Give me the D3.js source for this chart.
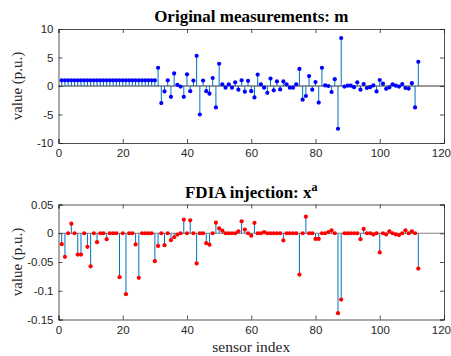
<!DOCTYPE html>
<html><head><meta charset="utf-8">
<script src="https://cdn.jsdelivr.net/npm/d3@7/dist/d3.min.js"></script>
<style>body{margin:0;background:#fff}svg{display:block}</style>
</head><body>
<svg id="c" width="451" height="356"></svg>
<script>
const sensorCount = 112;
const measurements = [
 1,1,1,1,1,1,1,1,1,1, 1,1,1,1,1,1,1,1,1,1, 1,1,1,1,1,1,1,1,1,1,
 3.2,-3.0,-0.95,1.0,-1.9,2.2,0.2,-0.1,-1.9,2.05,
 -0.9,0.95,5.3,-5.0,0.95,-0.9,-1.35,1.4,-3.75,3.9,
 0.3,-0.3,0.3,-0.3,0.65,-0.65,1.0,-1.0,0.9,-0.9,
 -2.0,2.0,0.3,-0.3,-1.2,1.3,-0.75,0.8,-0.6,0.8,
 0.3,-0.3,-0.3,0.3,3.0,-2.4,-1.75,1.75,-0.65,0.7,
 -2.9,3.2,0.1,0.0,-1.05,1.2,-7.5,8.4,-0.1,0.05,
 0.05,-0.2,0.65,-0.65,0.35,-0.35,-0.2,0.1,-0.95,1.05,
 0.4,-0.5,-0.25,0.3,0.05,-0.1,0.35,-0.35,-0.45,0.5,
 -3.75,4.25
];
const injection = [
 -0.019,-0.041,0,0.0167,0,-0.037,-0.037,0,-0.0236,-0.0575,
 0,-0.0155,0,0,-0.0103,0,0,0,-0.0764,0,
 -0.106,0,0,-0.0195,-0.0776,0,0,0,0,-0.0485,
 -0.022,0,-0.0207,0,-0.012,-0.007,-0.0023,0,0.0236,0,
 0.0224,0,-0.0525,0,0,-0.0172,-0.0198,0,0.0184,0.0086,
 0.0044,0,0,0,0,0.0034,0.0207,0.0065,0,-0.0042,
 0.018,0,0,0.002,0,0,0,0,0,-0.0124,
 0,0,0,0,-0.0718,0,0.0289,0,0,-0.0098,
 -0.0098,0,0,0.002,0.005,0,-0.139,-0.1153,0,0,
 0,0,0,-0.0103,0.0075,0,0,-0.002,0,-0.0333,
 0,-0.002,0.0034,0,-0.002,-0.0032,0,0.0052,0,0.0034,
 0,-0.0615
];
const xTicks = [0,20,40,60,80,100,120];
const yTicksTop = [-10,-5,0,5,10];
const yTicksBottom = [-0.15,-0.1,-0.05,0,0.05];

const svg = d3.select("#c");
const L = 58.5, R = 444;
const x = d3.scaleLinear().domain([0,120]).range([L,R]);
const idx = d3.range(1, sensorCount+1);
const serif = "'Liberation Serif','Times New Roman',serif";

function panel(top, bottom, yDomain, yTicks, values, markColor, baseColor, title, titleSup, fmt){
  const y = d3.scaleLinear().domain(yDomain).range([bottom, top]);
  const g = svg.append("g");
  g.append("line").attr("x1",L).attr("x2",R).attr("y1",y(0)).attr("y2",y(0))
    .attr("stroke",baseColor).attr("stroke-width",1.2);
  g.selectAll("line.stem").data(idx).enter().append("line").attr("class","stem")
    .attr("x1",d=>x(d)).attr("x2",d=>x(d)).attr("y1",y(0)).attr("y2",d=>y(values[d-1]))
    .attr("stroke","#0072BD").attr("stroke-width",1);
  g.selectAll("circle").data(idx).enter().append("circle")
    .attr("cx",d=>x(d)).attr("cy",d=>y(values[d-1])).attr("r",2.1)
    .attr("fill",markColor);
  const fontT = "'Liberation Sans', Arial, sans-serif";
  const ax = g.append("g").attr("transform",`translate(0,${bottom})`)
    .call(d3.axisBottom(x).tickValues(xTicks).tickSize(-4).tickPadding(6).tickFormat(d3.format("d")));
  const axT = g.append("g").attr("transform",`translate(0,${top})`)
    .call(d3.axisTop(x).tickValues(xTicks).tickSize(-4).tickFormat(""));
  const ay = g.append("g").attr("transform",`translate(${L},0)`)
    .call(d3.axisLeft(y).tickValues(yTicks).tickSize(-4).tickPadding(5).tickFormat(fmt));
  const ayR = g.append("g").attr("transform",`translate(${R},0)`)
    .call(d3.axisRight(y).tickValues(yTicks).tickSize(-4).tickFormat(""));
  [ax,axT,ay,ayR].forEach(a=>{
    a.selectAll("path").attr("stroke","#262626").attr("stroke-width",0.8);
    a.selectAll("line").attr("stroke","#262626").attr("stroke-width",0.8);
    a.selectAll("text").attr("fill","#262626").style("font-family",fontT).style("font-size","11.5px");
  });
  ax.selectAll("text").attr("dy","0.71em");
  // keep the last label inside the window
  ax.selectAll(".tick").filter(d=>d===120).select("text").attr("text-anchor","end").attr("dx","6.5");
  const t = svg.append("text").attr("x",(L+R)/2).attr("y",top-7).attr("text-anchor","middle")
    .style("font-family",serif).style("font-weight","bold")
    .style("font-size","17px").attr("fill","#000").text(title);
  if (titleSup) t.append("tspan").attr("dy",-7).style("font-size","12px").text(titleSup);
  svg.append("text").attr("transform",`translate(22,${(top+bottom)/2}) rotate(-90)`)
    .attr("text-anchor","middle").style("font-family",serif)
    .style("font-size","15px").attr("fill","#262626").text("value (p.u.)");
}

panel(29, 143, [-10,10], yTicksTop, measurements, "#0000FF", "#333333",
  "Original measurements: m", null, d=>d3.format("d")(d).replace("−","-"));
panel(204.5, 319.5, [-0.15,0.05], yTicksBottom, injection, "#FF0000", "#808080",
  "FDIA injection: x", "a", d=>(d===0?"0":String(+d.toFixed(2))));

svg.append("text").attr("x",(L+R)/2).attr("y",352).attr("text-anchor","middle")
  .style("font-family",serif).style("font-size","15.5px")
  .attr("fill","#262626").text("sensor index");
</script>
</body></html>
